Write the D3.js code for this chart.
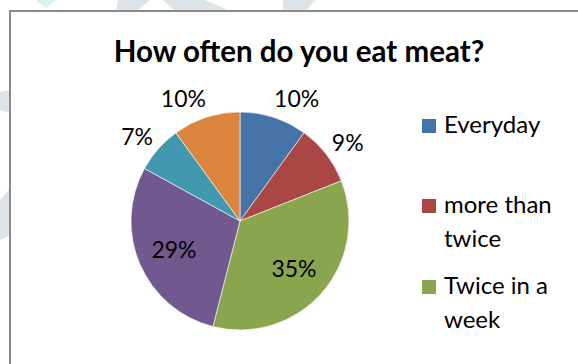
<!DOCTYPE html>
<html>
<head>
<meta charset="utf-8">
<script src="https://cdn.jsdelivr.net/npm/d3@7"></script>
<style>
  body { margin: 0; background: #fff; }
  svg { display: block; font-family: Lato, "Open Sans", sans-serif; }
</style>
</head>
<body>
<div id="chart"></div>
<script>
// survey answers, in slice order (clockwise from 12 o'clock)
const categories = ['Everyday', 'more than twice', 'Twice in a week', 'Once a week', 'Rarely', 'Never'];
const percents = [10, 9, 35, 29, 7, 10];
const colors = ['#4572A7', '#AA4643', '#89A54E', '#71588F', '#4198AF', '#DB843D'];
const title = 'How often do you eat meat?';

const width = 578;
const height = 364;

const svg = d3.select('#chart')
  .append('svg')
  .attr('width', width)
  .attr('height', height);

// faint watermark shapes behind the chart frame
const wm = svg.append('g').attr('class', 'watermark');
wm.append('path').attr('d', 'M36,0 L56,0 L46,8 Z').attr('fill', '#d9f2ea');
wm.append('path').attr('d', 'M118,0 L150,0 L136,12 L116,12 Z').attr('fill', '#dde4e8');
wm.append('path').attr('d', 'M163,0 L205,0 L228,10 L198,12 L176,12 Z').attr('fill', '#dde4e8');
wm.append('path').attr('d', 'M283,0 L315,0 L305,12 L283,12 Z').attr('fill', '#dde4e8');
wm.append('path').attr('d', 'M0,92 L9,90 L9,113 L0,110 Z').attr('fill', '#dde4e8');
wm.append('path').attr('d', 'M0,200 L9,190 L9,236 L0,240 Z').attr('fill', '#dde4e8');

// chart frame (runs off the right and bottom of the picture)
svg.append('rect')
  .attr('x', 10)
  .attr('y', 11)
  .attr('width', width + 20)
  .attr('height', height + 20)
  .attr('fill', '#fff')
  .attr('stroke', '#8a8a8a')
  .attr('stroke-width', 2);

svg.append('text')
  .attr('x', 299)
  .attr('y', 62)
  .attr('text-anchor', 'middle')
  .attr('font-size', 29.5)
  .attr('font-weight', 'bold')
  .attr('fill', '#000')
  .text(title);

const cx = 240;
const cy = 221;
const radius = 109;

const pie = d3.pie().sort(null).value(d => d);
const arcs = pie(percents);
const arc = d3.arc().innerRadius(0).outerRadius(radius);
const inner = d3.arc().innerRadius(radius * 0.66).outerRadius(radius * 0.66);

const g = svg.append('g').attr('transform', `translate(${cx},${cy})`);

g.selectAll('.slice')
  .data(arcs)
  .enter()
  .append('path')
  .attr('class', 'slice')
  .attr('d', arc)
  .attr('fill', (d, i) => colors[i])
  .attr('stroke', '#fff')
  .attr('stroke-width', 0.6);

const labels = g.selectAll('.label')
  .data(arcs)
  .enter()
  .append('text')
  .attr('class', 'label')
  .attr('font-size', 23)
  .attr('fill', '#000')
  .attr('text-anchor', 'middle')
  .text(d => d.data + '%');

// big slices get the label inside, small ones just outside the rim
labels.each(function (d) {
  const t = d3.select(this);
  const w = this.getComputedTextLength();
  const h = 17;
  let x, y;
  if (d.data >= 20) {
    [x, y] = inner.centroid(d);
  } else {
    const a = (d.startAngle + d.endAngle) / 2;
    const r = radius + 11;
    x = Math.sin(a) * r + (w / 2 - 3) * Math.sign(Math.sin(a));
    y = -Math.cos(a) * r - (h / 2) * Math.cos(a);
  }
  t.attr('x', x).attr('y', y + h / 2);
});

// legend, wrapped like the original; only the first three entries fit
// inside the visible part of the frame, the rest are cut off in the source
const legend = svg.append('g').attr('transform', 'translate(422,0)');
const legendStep = 81;
const item = legend.selectAll('.item')
  .data(categories.slice(0, 3))
  .enter()
  .append('g')
  .attr('class', 'item')
  .attr('transform', (d, i) => `translate(0,${119 + i * legendStep - (i > 0 ? 1 : 0)})`);

item.append('rect')
  .attr('width', 14)
  .attr('height', 14)
  .attr('fill', (d, i) => colors[i]);

const wrap = name => {
  const words = name.split(' ');
  const lines = [];
  let line = '';
  words.forEach(w => {
    const next = line ? line + ' ' + w : w;
    if (next.length > 10 && line) {
      lines.push(line);
      line = w;
    } else {
      line = next;
    }
  });
  lines.push(line);
  return lines;
};

item.append('text')
  .attr('y', 14)
  .attr('font-size', 24)
  .attr('fill', '#000')
  .selectAll('tspan')
  .data(d => wrap(d))
  .enter()
  .append('tspan')
  .attr('x', 22)
  .attr('dy', (d, i) => i === 0 ? 0 : 34)
  .text(d => d);
</script>
</body>
</html>
